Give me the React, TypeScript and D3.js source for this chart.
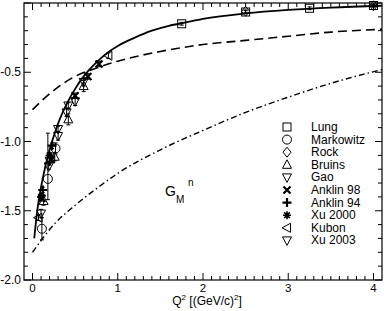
import React from "react";
import * as d3 from "d3";

const W = 384, H = 311;
const M = { left: 24, right: 2, top: 3, bottom: 31 };

const xDomain: [number, number] = [-0.1, 4.1];
const yDomain: [number, number] = [-2.0, 0.0];
const xMajor = [0, 1, 2, 3, 4];
const xMajorLabels = ["0", "1", "2", "3", "4"];
const yMajor = [-2.0, -1.5, -1.0, -0.5];
const yMajorLabels = ["-2.0", "-1.5", "-1.0", "-0.5"];

// curves [Q2, G]
const solidCurve: [number, number][] = [
  [0.02, -1.7], [0.04, -1.58], [0.06, -1.48], [0.08, -1.4], [0.1, -1.33], [0.15, -1.18],
  [0.2, -1.06], [0.25, -0.96], [0.3, -0.87], [0.4, -0.73], [0.5, -0.62], [0.6, -0.53],
  [0.7, -0.46], [0.8, -0.4], [0.9, -0.35], [1.0, -0.31], [1.2, -0.25], [1.4, -0.2],
  [1.6, -0.165], [1.8, -0.14], [2.0, -0.115], [2.5, -0.075], [3.0, -0.05], [3.5, -0.033], [4.1, -0.02],
];
const dashedCurve: [number, number][] = [
  [0, -0.77], [0.1, -0.71], [0.25, -0.63], [0.5, -0.53], [0.75, -0.47], [1.0, -0.42],
  [1.5, -0.35], [2.0, -0.3], [2.5, -0.27], [3.0, -0.24], [3.5, -0.21], [4.1, -0.19],
];
const dashDotCurve: [number, number][] = [
  [0, -1.8], [0.25, -1.6], [0.5, -1.46], [0.75, -1.34], [1.0, -1.23], [1.5, -1.06],
  [2.0, -0.92], [2.5, -0.79], [3.0, -0.68], [3.5, -0.58], [4.1, -0.48],
];

// data points [Q2, G, errLow, errHigh]
const lung: number[][] = [[1.75, -0.15, 0.01, 0.01], [2.5, -0.065, 0.01, 0.01], [3.25, -0.038, 0.01, 0.01], [4.0, -0.018, 0.01, 0.01]];
const markowitz: number[][] = [[0.11, -1.63, 0.08, 0.08], [0.18, -1.27, 0.15, 0.33], [0.27, -1.05, 0.04, 0.04]];
const rock: number[][] = [[2.5, -0.06, 0.01, 0.01], [4.0, -0.02, 0.01, 0.01]];
const bruins: number[][] = [[0.13, -1.43, 0.03, 0.03], [0.26, -1.11, 0.03, 0.03], [0.42, -0.84, 0.04, 0.04], [0.6, -0.6, 0.04, 0.04]];
const gao: number[][] = [[0.19, -1.18, 0.02, 0.02], [0.3, -0.91, 0.02, 0.02], [0.42, -0.74, 0.02, 0.02]];
const anklin98: number[][] = [[0.11, -1.41, 0.02, 0.02], [0.22, -1.13, 0.02, 0.02], [0.5, -0.67, 0.02, 0.02], [0.65, -0.53, 0.02, 0.02], [0.78, -0.44, 0.02, 0.02]];
const anklin94: number[][] = [[0.12, -1.35, 0.02, 0.02], [0.23, -1.03, 0.02, 0.02]];
const xu2000: number[][] = [[0.1, -1.4, 0.02, 0.02], [0.2, -1.1, 0.02, 0.02]];
const kubon: number[][] = [[0.07, -1.55, 0.02, 0.02], [0.89, -0.38, 0.02, 0.02]];
const xu2003: number[][] = [[0.1, -1.52, 0.03, 0.03], [0.2, -1.14, 0.03, 0.03], [0.3, -0.96, 0.03, 0.03], [0.4, -0.79, 0.03, 0.03], [0.5, -0.71, 0.03, 0.03], [0.6, -0.57, 0.03, 0.03]];

const legendNames = ["Lung", "Markowitz", "Rock", "Bruins", "Gao", "Anklin 98", "Anklin 94", "Xu 2000", "Kubon", "Xu 2003"];
const legendShapes = ["square", "circle", "diamond", "triUp", "triDown", "cross", "plus", "star", "triLeft", "triDown"];
const seriesData = [lung, markowitz, rock, bruins, gao, anklin98, anklin94, xu2000, kubon, xu2003];

function Marker({ shape, x, y, s = 4 }: { shape: string; x: number; y: number; s?: number }) {
  const st = { fill: "none", stroke: "#000", strokeWidth: 1 };
  switch (shape) {
    case "square":
      return <rect x={x - s} y={y - s} width={2 * s} height={2 * s} {...st} />;
    case "circle":
      return <circle cx={x} cy={y} r={s + 0.5} {...st} />;
    case "diamond":
      return <path d={`M${x},${y - s - 1}L${x + s},${y}L${x},${y + s + 1}L${x - s},${y}Z`} {...st} />;
    case "triUp":
      return <path d={`M${x},${y - s - 1}L${x + s + 0.5},${y + s - 0.5}L${x - s - 0.5},${y + s - 0.5}Z`} {...st} />;
    case "triDown":
      return <path d={`M${x},${y + s + 1}L${x + s + 0.5},${y - s + 0.5}L${x - s - 0.5},${y - s + 0.5}Z`} {...st} />;
    case "triLeft":
      return <path d={`M${x - s - 1},${y}L${x + s - 0.5},${y - s - 0.5}L${x + s - 0.5},${y + s + 0.5}Z`} {...st} />;
    case "cross":
      return <path d={`M${x - s + 0.5},${y - s + 0.5}L${x + s - 0.5},${y + s - 0.5}M${x + s - 0.5},${y - s + 0.5}L${x - s + 0.5},${y + s - 0.5}`} stroke="#000" strokeWidth={2.2} />;
    case "plus":
      return <path d={`M${x - s - 0.5},${y}L${x + s + 0.5},${y}M${x},${y - s - 0.5}L${x},${y + s + 0.5}`} stroke="#000" strokeWidth={2.2} />;
    case "star": {
      const r = s;
      let d = "";
      for (let i = 0; i < 4; i++) {
        const a = (i * Math.PI) / 4;
        d += `M${x - r * Math.cos(a)},${y - r * Math.sin(a)}L${x + r * Math.cos(a)},${y + r * Math.sin(a)}`;
      }
      return (
        <g>
          <path d={d} stroke="#000" strokeWidth={1.6} />
          <circle cx={x} cy={y} r={2} fill="#000" />
        </g>
      );
    }
  }
  return null;
}

export default function App() {
  const x = d3.scaleLinear().domain(xDomain).range([M.left, W - M.right]);
  const y = d3.scaleLinear().domain(yDomain).range([H - M.bottom, M.top]);
  const line = d3.line<[number, number]>().x((d) => x(d[0])).y((d) => y(d[1])).curve(d3.curveMonotoneX);

  const xMinor = d3.range(0, 41).map((i) => i / 10).filter((v) => v <= 4.1);
  const yMinor = d3.range(-20, 1).map((i) => i / 10);
  const x0 = M.left, x1 = W - M.right, y0 = H - M.bottom, y1 = M.top;
  const font = "Liberation Sans, Arial, sans-serif";

  return (
    <svg width={W} height={H} style={{ position: "absolute", left: 0, top: 0 }} fontFamily={font}>
      <rect x={0} y={0} width={W} height={H} fill="#fff" />
      <defs>
        <clipPath id="plotclip">
          <rect x={x0} y={y1} width={x1 - x0} height={y0 - y1} />
        </clipPath>
      </defs>
      {xMinor.map((v, i) => {
        const major = Math.abs(v - Math.round(v)) < 1e-6;
        const L = major ? 7 : 4;
        return (
          <g key={"xt" + i} stroke="#000" strokeWidth={1}>
            <line x1={x(v)} x2={x(v)} y1={y0} y2={y0 - L} />
            <line x1={x(v)} x2={x(v)} y1={y1} y2={y1 + L} />
          </g>
        );
      })}
      {yMinor.map((v, i) => {
        const major = Math.abs(v * 2 - Math.round(v * 2)) < 1e-6;
        const L = major ? 7 : 4;
        return (
          <g key={"yt" + i} stroke="#000" strokeWidth={1}>
            <line x1={x0} x2={x0 + L} y1={y(v)} y2={y(v)} />
            <line x1={x1} x2={x1 - L} y1={y(v)} y2={y(v)} />
          </g>
        );
      })}
      <rect x={x0} y={y1} width={x1 - x0} height={y0 - y1} fill="none" stroke="#000" strokeWidth={1.2} />
      {xMajor.map((v, i) => (
        <text key={"xl" + i} x={x(v)} y={y0 + 12} fontSize={11.5} textAnchor="middle">{xMajorLabels[i]}</text>
      ))}
      {yMajor.map((v, i) => (
        <text key={"yl" + i} x={x0 - 3} y={y(v) + 4} fontSize={12} textAnchor="end">{yMajorLabels[i]}</text>
      ))}
      <text x={207} y={305} fontSize={12} textAnchor="middle">
        Q<tspan dy={-5} fontSize={8}>2</tspan><tspan dy={5}> [(GeV/c)</tspan><tspan dy={-5} fontSize={8}>2</tspan><tspan dy={5}>]</tspan>
      </text>
      <g clipPath="url(#plotclip)" fill="none" stroke="#000">
        <path d={line(solidCurve) || ""} strokeWidth={1.8} />
        <path d={line(dashedCurve) || ""} strokeWidth={1.6} strokeDasharray="9,5" />
        <path d={line(dashDotCurve) || ""} strokeWidth={1.4} strokeDasharray="6,3,1.5,3" />
      </g>
      {seriesData.map((ser, si) => (
        <g key={"s" + si}>
          {ser.map((p, pi) => (
            <g key={pi}>
              <line x1={x(p[0])} x2={x(p[0])} y1={y(p[1] - p[2])} y2={y(p[1] + p[3])} stroke="#000" strokeWidth={1} />
              <line x1={x(p[0]) - 2} x2={x(p[0]) + 2} y1={y(p[1] - p[2])} y2={y(p[1] - p[2])} stroke="#000" strokeWidth={1} />
              <line x1={x(p[0]) - 2} x2={x(p[0]) + 2} y1={y(p[1] + p[3])} y2={y(p[1] + p[3])} stroke="#000" strokeWidth={1} />
              <Marker shape={legendShapes[si]} x={x(p[0])} y={y(p[1])} />
            </g>
          ))}
        </g>
      ))}
      {legendNames.map((n, i) => (
        <g key={"lg" + i}>
          <Marker shape={legendShapes[i]} x={287} y={127 + i * 12.6} />
          <text x={311} y={131 + i * 12.6} fontSize={12}>{n}</text>
        </g>
      ))}
      <text x={165} y={196} fontSize={14}>G</text>
      <text x={176} y={203} fontSize={10}>M</text>
      <text x={188} y={186} fontSize={10}>n</text>
    </svg>
  );
}
